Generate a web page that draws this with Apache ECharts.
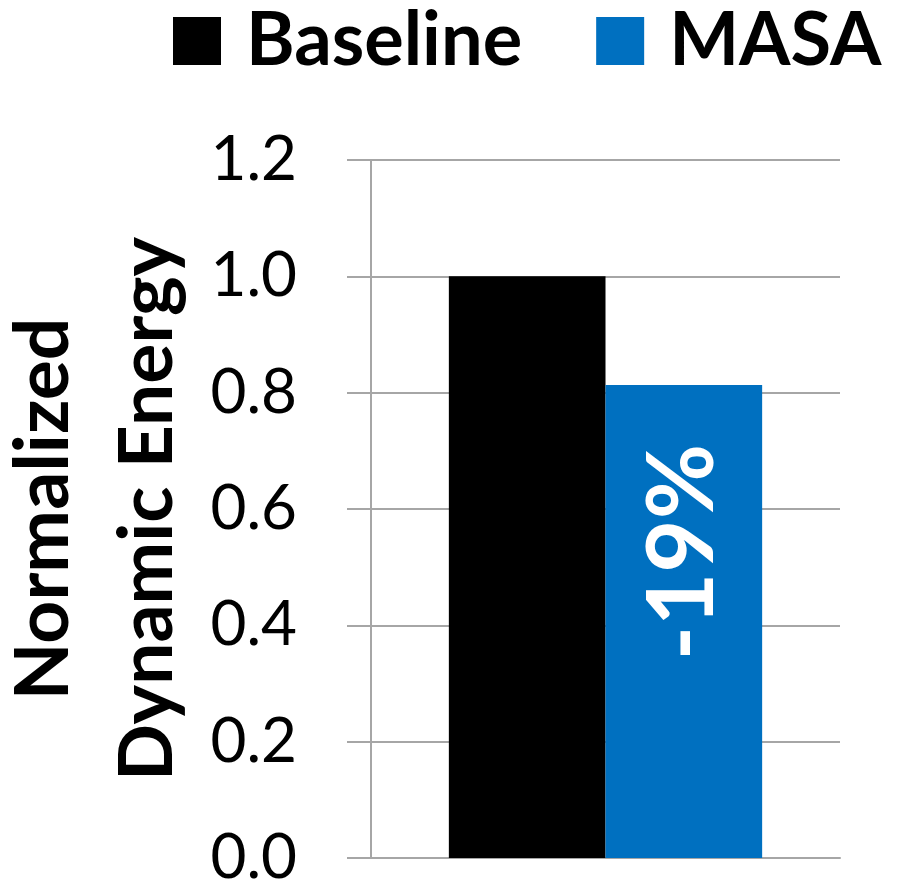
<!DOCTYPE html>
<html>
<head>
<meta charset="utf-8">
<script src="https://cdn.jsdelivr.net/npm/echarts@6/dist/echarts.min.js"></script>
<style>
  html, body { margin: 0; padding: 0; background: #fff; }
  #main { width: 902px; height: 883px; }
</style>
</head>
<body>
<div id="main"></div>
<script>
    // data
    var categories = [''];
    var seriesNames = ['Baseline', 'MASA'];
    var baselineValues = [1.0];
    var masaValues = [0.813];
    var masaLabels = ['-19%'];

    var chart = echarts.init(document.getElementById('main'));
    var grey = '#a6a6a6';
    var option = {
        animation: false,
        textStyle: { fontFamily: 'Lato' },
        legend: {
            data: seriesNames,
            left: 168,
            top: -1,
            itemWidth: 48,
            itemHeight: 48,
            itemGap: 74,
            icon: 'rect',
            textStyle: {
                fontFamily: 'Lato',
                fontWeight: 'bold',
                fontSize: 74,
                color: '#000',
                padding: [0, 0, 0, 20]
            }
        },
        grid: { left: 371, right: 62, top: 160, bottom: 25, containLabel: false, outerBoundsMode: 'none' },
        xAxis: {
            type: 'category',
            data: categories,
            axisLine: { lineStyle: { color: grey, width: 2 } },
            axisTick: { show: false },
            axisLabel: { show: false }
        },
        yAxis: {
            type: 'value',
            min: 0,
            max: 1.2,
            interval: 0.2,
            name: 'Normalized\nDynamic Energy',
            nameLocation: 'middle',
            nameGap: 167,
            nameTextStyle: {
                fontFamily: 'Lato',
                fontWeight: 'bold',
                fontSize: 75,
                lineHeight: 104,
                color: '#000'
            },
            axisLine: { show: true, lineStyle: { color: grey, width: 2 } },
            axisTick: { show: true, length: 24, lineStyle: { color: grey, width: 2 } },
            axisLabel: {
                margin: 74,
                fontSize: 62,
                color: '#000',
                fontFamily: 'Lato',
                formatter: function (v) { return v.toFixed(1); }
            },
            splitLine: { lineStyle: { color: grey, width: 2 } }
        },
        series: [
            {
                name: 'Baseline',
                type: 'bar',
                data: baselineValues,
                barWidth: '33.4%',
                barGap: 0,
                itemStyle: { color: '#000000' }
            },
            {
                name: 'MASA',
                type: 'bar',
                data: masaValues,
                barWidth: '33.4%',
                barGap: 0,
                itemStyle: { color: '#0070C0' },
                label: {
                    show: true,
                    position: ['50%', 167],
                    rotate: 90,
                    align: 'center',
                    verticalAlign: 'middle',
                    fontFamily: 'Lato',
                    fontWeight: 'bold',
                    fontSize: 92,
                    color: '#fff',
                    formatter: function (p) { return masaLabels[p.dataIndex]; }
                }
            }
        ]
    };
    chart.setOption(option);
</script>
</body>
</html>
